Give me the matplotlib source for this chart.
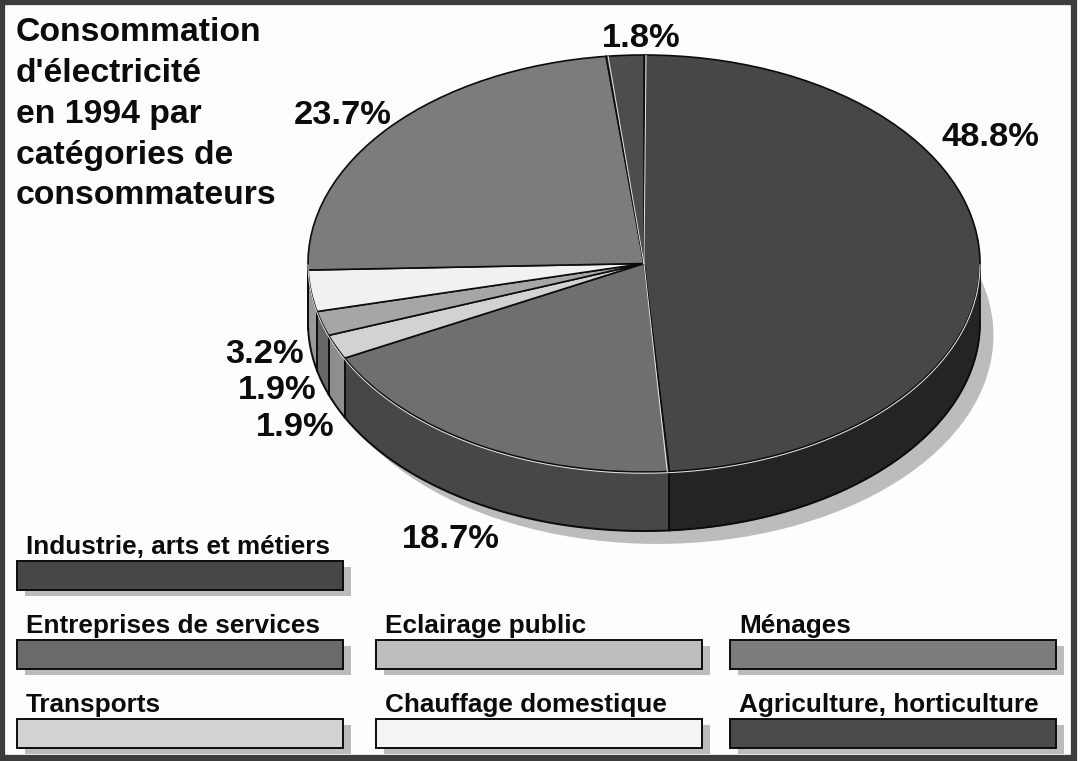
"""Consommation d'electricite en 1994: pseudo 3D pie with press-style legend."""
import numpy as np
import matplotlib
matplotlib.use("Agg")
import matplotlib.pyplot as plt
from matplotlib.patches import Rectangle

plt.rcParams["font.family"] = ["Liberation Sans", "DejaVu Sans"]

# data, clockwise from 12 o'clock
categories = ["Industrie, arts et métiers", "Entreprises de services", "Transports",
              "Eclairage public", "Chauffage domestique", "Ménages",
              "Agriculture, horticulture"]
values = [48.8, 18.7, 1.9, 1.9, 3.2, 23.7, 1.8]
pct_labels = ["48.8%", "18.7%", "1.9%", "1.9%", "3.2%", "23.7%", "1.8%"]

# colours
top_colors = ["#474747", "#6f6f6f", "#d2d2d2", "#a6a6a6", "#f1f1f1", "#7c7c7c", "#4d4d4d"]
wall_colors = ["#242424", "#474747", "#8e8e8e", "#666666", "#9a9a9a", "#555555", "#333333"]
legend_colors = ["#474747", "#6a6a6a", "#d2d2d2", "#bdbdbd", "#f4f4f4", "#7c7c7c", "#4a4a4a"]
SHADOW = "#bcbcbc"
INK = "#0c0c0c"

W, H = 1080, 761
# ellipse of the pie top in pixels
X0, X1, Y0, Y1 = 308, 980, 55, 472
DEPTH = 59 / ((Y1 - Y0) / 2)

fig = plt.figure(figsize=(W / 100, H / 100), dpi=100, facecolor="#fdfdfd")

# pie axes: unit circle stretched to the ellipse
pie_ax = fig.add_axes([X0 / W, 1 - Y1 / H, (X1 - X0) / W, (Y1 - Y0) / H])
shadow = pie_ax.pie([1], colors=[SHADOW], radius=1, center=(0.04, -0.345),
                    wedgeprops=dict(linewidth=0, zorder=1, clip_on=False))
pie_ax.pie(values, colors=top_colors, startangle=90, counterclock=False, radius=1,
           wedgeprops=dict(edgecolor=INK, linewidth=1.2, zorder=4))

# side wall, only the front half of the disc shows
edges = np.concatenate([[0], np.cumsum(values)]) / sum(values) * 360
for i, col in enumerate(wall_colors):
    a = np.radians(np.linspace(edges[i], edges[i + 1], 120))  # clockwise from top
    x, y = np.sin(a), np.cos(a)
    keep = np.cos(a) <= 0
    if keep.sum() < 2:
        continue
    pie_ax.fill_between(x[keep], y[keep], y[keep] - DEPTH, color=col, lw=0, zorder=2, clip_on=False)
    pie_ax.plot([x[keep][0]] * 2, [y[keep][0], y[keep][0] - DEPTH], color=INK, lw=1.2, zorder=3, clip_on=False)
    pie_ax.plot([x[keep][-1]] * 2, [y[keep][-1], y[keep][-1] - DEPTH], color=INK, lw=1.2, zorder=3, clip_on=False)
    pie_ax.plot(x[keep], y[keep] - DEPTH, color=INK, lw=1.4, zorder=3, clip_on=False)

# white highlight on the rim and on two of the dividers
a = np.radians(np.linspace(90, 270, 200))
pie_ax.plot(np.sin(a), np.cos(a) - 0.006, color="#e8e8e8", lw=0.7, zorder=5, clip_on=False)
for e in (edges[1], edges[6], edges[0]):
    t = np.radians(e + 0.35)
    pie_ax.plot([0, np.sin(t)], [0, np.cos(t)], color="#e8e8e8", lw=0.7, zorder=5)

pie_ax.set_aspect("auto")
pie_ax.set_xlim(-1, 1)
pie_ax.set_ylim(-1, 1)
pie_ax.patch.set_alpha(0)
pie_ax.set_zorder(1)

# overlay axes in reference pixels for text and legend
ax = fig.add_axes([0, 0, 1, 1])
ax.set_xlim(0, W)
ax.set_ylim(H, 0)
ax.axis("off")
ax.patch.set_alpha(0)
ax.set_zorder(2)

# press frame
ax.add_patch(Rectangle((2, 2), W - 8, H - 5, fill=False, edgecolor="#3c3c3c", lw=4.5))

ax.text(16, 17, "Consommation\nd'électricité\nen 1994 par\ncatégories de\nconsommateurs",
        fontsize=24.3, fontweight="bold", color=INK, ha="left", va="top", linespacing=1.41)

# percentage labels, right edge + baseline in pixels
label_pos = [(1039, 146), (500, 548), (335, 436), (316, 399), (304, 363), (392, 124), (680, 47)]
for txt, (px, py) in zip(pct_labels, label_pos):
    ax.text(px, py, txt, fontsize=24.8, fontweight="bold", color=INK, ha="right", va="baseline")

# legend: one bar per category, with its drop shadow
col_x = [17, 376, 730]
row_y = [561, 640, 719]
slots = [(0, 0), (0, 1), (0, 2), (1, 1), (1, 2), (2, 1), (2, 2)]
for name, col, (c, r) in zip(categories, legend_colors, slots):
    bx, by = col_x[c], row_y[r]
    ax.add_patch(Rectangle((bx + 8, by + 6), 326, 29, facecolor=SHADOW, edgecolor="none"))
    ax.add_patch(Rectangle((bx, by), 326, 29, facecolor=col, edgecolor=INK, lw=1.4))
    ax.text(bx + 9, by - 7, name, fontsize=18.8, fontweight="bold", color=INK,
            ha="left", va="baseline")

fig.savefig("out.png", dpi=100)
plt.close(fig)
